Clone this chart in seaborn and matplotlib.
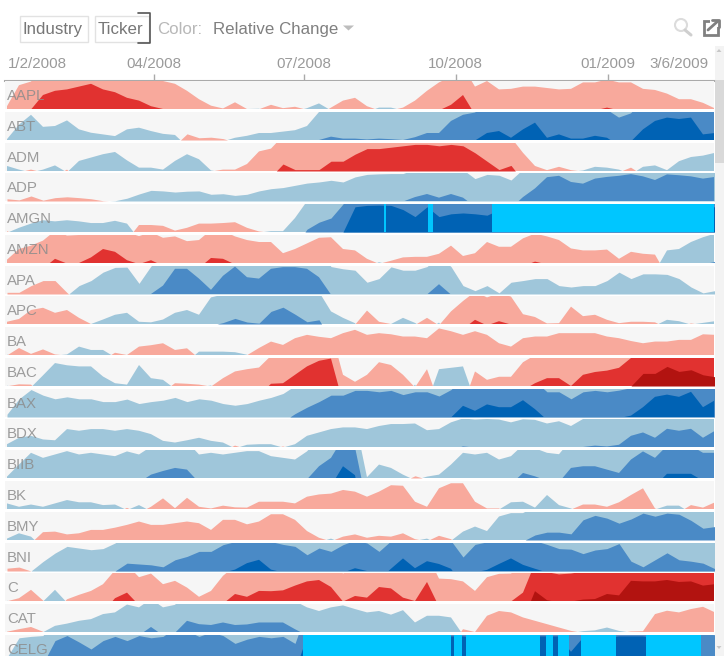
import numpy as np
import matplotlib
matplotlib.use("Agg")
import matplotlib.pyplot as plt
from matplotlib.patches import Rectangle, Polygon, Circle
import seaborn as sns

W, H = 726, 656
# Signed change in hundredths of a band: + blue, - red
AAPL = [-10,-85,-98,-150,-165,-170,-180,-190,-170,-160,-140,-130,-110,-100,-90,-65,-35,-12,-2,-24,0,1,-15,-3,-8,3,20,-5,-30,-40,
        -10,5,5,-5,-30,-65,-95,-115,-150,-80,-100,-70,-72,-80,-80,-75,-70,-72,-95,-95,-105,-95,-95,-72,-68,-55,-35,-35,-22,-2]
ABT = [3,55,90,47,50,70,38,26,20,14,38,44,32,22,18,-22,-8,-10,-5,8,15,25,25,30,35,50,100,112,105,105,
       102,105,103,100,110,125,125,168,190,198,225,232,208,238,262,208,220,205,205,215,208,180,195,238,268,280,275,280,220,225]
ADM = [18,5,-5,5,20,-5,36,48,60,68,38,12,12,5,36,60,42,2,-5,-5,-25,-70,-80,-125,-105,-105,-105,-135,-135,-160,
       -180,-180,-185,-190,-195,-195,-190,-195,-190,-165,-135,-105,-120,-65,-18,-3,-15,-3,2,15,12,5,-12,15,20,3,35,50,55,65]
ADP = [-8,-4,-18,-3,-12,-15,-12,-8,-1,1,10,25,38,36,32,35,36,24,26,20,24,36,44,48,56,64,68,74,68,86,
       95,97,98,98,114,125,112,125,112,80,95,92,75,114,145,185,190,168,162,180,186,190,196,188,175,195,192,188,180,186]
AMGN = [-3,15,30,42,38,42,38,32,32,40,30,-25,-25,-22,-5,-15,-30,-30,-32,-35,-15,-2,3,3,50,110,135,150,200,290,
        295,296,295,280,255,290,255,265,268,265,260,280,290,290,290,290,290,290,290,290,290,290,290,290,290,290,290,290,290,290]
AMZN = [-12,-50,-62,-80,-115,-98,-100,-120,-150,-140,-110,-96,-110,-90,-95,-78,-82,-118,-115,-95,-82,-75,-75,-35,-50,-70,-90,-92,-50,-45,
        -15,3,-8,-20,-22,-22,-33,-62,-25,-35,-75,-58,-58,-88,-105,-95,-82,-52,-45,-45,-48,-15,-40,-33,-30,45,50,75,92,105]
APA = [-6,-6,-30,-48,-48,-5,30,48,78,95,96,38,100,130,190,190,155,115,165,198,160,155,190,196,196,190,160,98,90,85,
       42,55,97,85,85,98,135,98,30,12,30,4,42,48,55,55,30,25,30,30,48,78,55,72,72,70,55,25,4,12]
APC = [-8,-18,-50,-58,-40,-50,-22,0,16,33,40,8,6,16,40,50,33,95,105,120,107,103,145,160,135,108,115,45,22,3,
       -48,-8,0,22,4,-22,5,-45,-82,-115,-95,-110,-98,-35,-25,-2,-3,-62,-28,-33,-15,-3,-8,-8,-6,15,10,-2,4,10]
BA = [2,-25,-4,-20,-2,2,30,18,18,-8,0,-30,-35,-42,-18,-24,12,12,12,10,1,-25,-48,-36,-60,-72,-65,-60,-78,-90,
      -72,-78,-74,-66,-66,-60,-95,-85,-72,-85,-72,-42,-30,-60,-66,-66,-78,-78,-78,-78,-66,-60,-50,-42,-48,-48,-54,-54,-74,-72]
BAC = [1,-6,-5,38,82,74,70,70,34,10,5,75,28,22,-10,-8,-5,2,-28,-52,-60,-66,-108,-110,-140,-170,-190,-198,-40,-15,
       -40,-85,-75,-40,5,-60,60,65,70,-52,-22,-33,-33,-85,-110,-128,-128,-100,-140,-150,-155,-165,-200,-245,-245,-270,-252,-258,-240,-233]
BAX = [10,65,98,78,65,72,65,65,55,55,64,48,55,60,70,55,65,60,48,42,48,60,70,84,112,135,155,178,178,195,
       195,190,195,180,190,190,175,198,240,222,245,235,235,260,228,190,190,165,190,195,190,196,205,235,272,280,272,290,235,260]
BDX = [10,33,40,27,24,64,58,64,64,58,64,58,46,22,16,24,33,22,16,-5,8,10,10,-2,10,40,52,64,70,70,
       64,75,82,82,84,60,64,88,102,98,100,98,88,99,97,84,92,75,100,105,102,108,140,152,133,165,158,165,133,158]
BIIB = [5,48,90,72,84,96,84,90,84,78,95,84,112,125,136,130,84,90,84,90,96,96,78,72,66,95,142,172,242,210,
        3,48,36,12,-8,5,12,48,90,84,90,66,78,118,106,90,85,136,142,142,130,118,166,195,172,215,215,215,190,190]
BK = [20,8,16,8,20,32,24,24,14,16,-4,14,-8,-38,-3,-40,-8,-2,-12,-6,-5,-26,-26,-26,-20,-44,-52,-55,-68,-62,
      -44,-62,-85,-83,-26,-8,-74,-92,-92,-26,-2,-2,24,26,5,50,14,2,-16,-16,-8,-24,-50,-74,-2,12,12,-14,-5,-24]
BMY = [5,24,12,-28,-30,-20,-24,-36,-36,-44,-54,-66,-54,-54,-60,-66,-60,-36,-72,-72,-56,-66,-92,-92,-72,-32,-8,5,-12,-20,
       -8,-15,-12,-24,-3,5,-15,-3,30,48,32,84,96,96,118,128,128,122,172,188,178,160,175,196,185,196,192,170,142,148]
BNI = [-10,-14,0,34,64,88,82,76,80,100,128,125,122,115,140,152,170,170,194,205,228,240,205,195,188,158,182,170,194,210,
       200,170,208,245,210,235,225,208,150,195,204,225,245,222,208,195,180,178,162,175,180,198,135,115,140,165,140,135,128,108]
C = [1,-10,-40,-2,40,-6,-22,-36,-60,-110,-130,-85,-98,-60,-72,-48,-15,-36,-90,-125,-115,-136,-135,-138,-155,-170,-175,-150,-98,-118,
     -112,-150,-145,-112,-100,-168,-80,-78,-70,-36,-85,-97,-98,-130,-235,-203,-195,-198,-205,-207,-225,-220,-272,-270,-270,-275,-268,-270,-255,-260]
CAT = [-1,-10,-18,-1,22,30,40,46,64,70,98,88,118,88,97,140,128,125,134,125,127,134,134,134,110,88,75,88,95,82,
       70,75,62,78,34,58,58,52,-10,0,-58,-75,-70,-52,-40,-28,-16,-4,3,6,16,4,-2,-3,-64,-76,-70,-82,-90,-70]
CELG = [20,90,95,98,180,198,175,150,180,195,180,198,190,195,225,215,195,210,198,170,185,195,190,195,170,290,290,290,290,290,
        290,290,290,290,290,290,290,295,295,290,290,290,290,290,295,295,295,240,290,290,290,295,295,295,290,290,290,290,210,200]

# Stretches (in row steps) where the change runs off the scale
AMGN_over = [(31.4, 31.6), (35.1, 35.5), (40.4, 60.0)]
CELG_over = [(24.66, 37.03), (37.22, 37.94), (38.22, 44.39), (44.94, 45.5), (45.92, 46.83), (47.86, 50.72), (53.27, 57.86)]
row_over = {"AMGN": AMGN_over, "CELG": CELG_over}

row_names = ["AAPL","ABT","ADM","ADP","AMGN","AMZN","APA","APC","BA","BAC","BAX","BDX","BIIB","BK","BMY","BNI","C","CAT","CELG"]
row_values = [AAPL,ABT,ADM,ADP,AMGN,AMZN,APA,APC,BA,BAC,BAX,BDX,BIIB,BK,BMY,BNI,C,CAT,CELG]
axis_ticks = [12.25, 24.75, 37.4, 50.1]
axis_labels = ["04/2008", "07/2008", "10/2008", "01/2009"]
end_labels = ["1/2/2008", "3/6/2009"]

blues = ["#9fc6da", "#4a8ac6", "#0062b4"]
reds = ["#f8a99c", "#e13230", "#b21310"]
over_colour = "#00c6ff"

sns.set_theme(style="white")
plt.rcParams["font.family"] = ["Liberation Sans", "DejaVu Sans"]

fig = plt.figure(figsize=(W / 100, H / 100), dpi=100, facecolor="white")


def px_axes(x0, y0, x1, y1, **kw):
    return fig.add_axes([x0 / W, 1 - y1 / H, (x1 - x0) / W, (y1 - y0) / H], **kw)


X0, X1 = 5, 714
xlim = ((X0 - 7) / 12, (X1 - 7) / 12)

# Chrome layer in pixel coordinates
ui = px_axes(0, 0, W, H)
ui.set_xlim(0, W)
ui.set_ylim(H, 0)
ui.axis("off")
for x, w, y, h in [(19.5, 68, 15.5, 26), (94.5, 54, 15.5, 26)]:
    ui.add_patch(Rectangle((x, y), w, h, fc="white", ec="#e2e2e2", lw=1))
ui.plot([138, 150, 150, 138], [12.5, 12.5, 43, 43], color="#555555", lw=1.2)
ui.text(23, 34, "Industry", fontsize=12.2, color="#777777", va="baseline")
ui.text(98, 34, "Ticker", fontsize=12.2, color="#777777", va="baseline")
ui.text(157, 34, "Color:", fontsize=12.2, color="#b8b8b8", va="baseline")
ui.text(213, 34, "Relative Change", fontsize=12.2, color="#808080", va="baseline")
ui.add_patch(Polygon([(343, 25.5), (354, 25.5), (348.5, 30.5)], fc="#bdbdbd", ec="none"))
ui.add_patch(Circle((681, 25), 6, fc="none", ec="#dcdcdc", lw=1.5))
ui.plot([685, 691], [30, 35], color="#cfcfcf", lw=2.2)
ui.add_patch(Rectangle((703.5, 20.5), 14, 14, fc="none", ec="#808080", lw=2))
ui.add_patch(Rectangle((710, 17), 11, 10, fc="white", ec="none"))
ui.plot([708, 718], [30, 21], color="#808080", lw=2)
ui.plot([712, 719, 719], [20, 20, 27], color="#808080", lw=2)
ui.add_patch(Rectangle((714.5, 46), 9, 610, fc="#f3f3f3", ec="none"))
ui.add_patch(Rectangle((714.5, 80), 9, 83, fc="#d9d9d9", ec="none"))
ui.add_patch(Polygon([(716.5, 52), (721.5, 52), (719, 49)], fc="#c8c8c8", ec="none"))
ui.add_patch(Polygon([(716.5, 646), (721.5, 646), (719, 649)], fc="#c8c8c8", ec="none"))
ui.text(37, 64, end_labels[0], fontsize=10.9, color="#9a9a9a", ha="center", va="center")
ui.text(678.5, 64, end_labels[1], fontsize=10.9, color="#9a9a9a", ha="center", va="center")

# Date axis
date_ax = px_axes(X0, 79.5, X1, 80.5)
date_ax.set_xlim(*xlim)
date_ax.set_ylim(0, 1)
date_ax.patch.set_visible(False)
date_ax.set_yticks([])
date_ax.xaxis.tick_top()
date_ax.set_xticks(axis_ticks)
date_ax.set_xticklabels(axis_labels, fontsize=10.9, color="#9a9a9a")
date_ax.tick_params(axis="x", length=4, width=1, color="#aaaaaa", pad=2, top=True, bottom=False)
sns.despine(ax=date_ax, left=True, right=True, top=True, bottom=False)
date_ax.spines["bottom"].set_color("#aaaaaa")
date_ax.spines["bottom"].set_linewidth(1.5)

# Horizon rows
for i, (name, vals) in enumerate(zip(row_names, row_values)):
    top = round(81 + 30.77 * i)
    ax = px_axes(X0, top, X1, top + 28)
    ax.set_facecolor("#f6f6f6")
    ax.set_xlim(*xlim)
    ax.set_ylim(0, 1)
    ax.set_xticks([])
    ax.set_yticks([])
    sns.despine(ax=ax, left=True, right=True, top=True, bottom=True)
    t = np.arange(len(vals))
    v = np.asarray(vals, dtype=float) / 100
    for sign, palette in ((1, blues), (-1, reds)):
        for k, col in enumerate(palette):
            y = sign * v - k
            ax.fill_between(t, 0, y, where=y > 0, interpolate=True, color=col, lw=0)
    for a, b in row_over.get(name, []):
        ax.axvspan(a, b, color=over_colour, lw=0)
    ax.text(7, top + 15, name, transform=ui.transData, fontsize=10.8,
            color="#8c8c8c", alpha=0.85, va="center", ha="left", clip_on=False, zorder=10)

fig.savefig("out.png", dpi=100)
